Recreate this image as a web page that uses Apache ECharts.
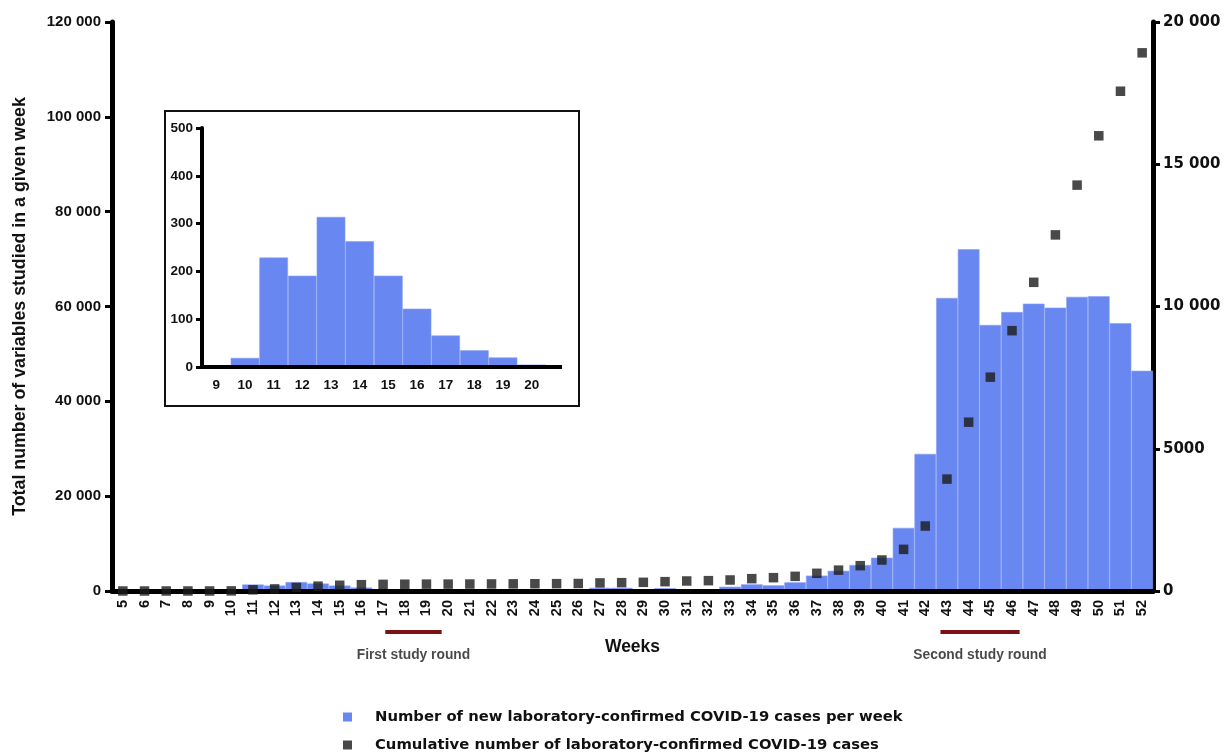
<!DOCTYPE html>
<html>
<head>
<meta charset="utf-8">
<script src="https://cdn.jsdelivr.net/npm/echarts@6/dist/echarts.min.js"></script>
<style>
html,body{margin:0;padding:0;background:#fff;}
#chart{width:1226px;height:755px;}
</style>
</head>
<body>
<div id="chart"></div>
<script>
// ---- data ----
const weeks = [5,6,7,8,9,10,11,12,13,14,15,16,17,18,19,20,21,22,23,24,25,26,27,28,29,30,31,32,33,34,35,36,37,38,39,40,41,42,43,44,45,46,47,48,49,50,51,52];
// new laboratory-confirmed cases per week (right axis)
const newCases = [0,0,0,0,0,19,229,191,314,263,191,122,66,35,20,5,30,25,30,30,30,35,110,110,60,100,60,50,150,234,200,305,540,710,914,1170,2220,4820,10300,12010,9350,9805,10100,9960,10340,10360,9415,7740];
// cumulative cases (left axis)
const cumulative = [0,0,0,0,0,20,250,440,750,1020,1210,1330,1400,1430,1450,1455,1470,1490,1510,1530,1550,1580,1700,1760,1830,1970,2110,2180,2320,2600,2810,3090,3730,4400,5340,6540,8780,13700,23600,35600,45100,54900,65100,75100,85600,96000,105400,113500];
// inset: weeks 9-20
const insetWeeks = [9,10,11,12,13,14,15,16,17,18,19,20];
const insetCases = [0,19,229,191,314,263,191,122,66,35,20,5];
// study rounds (in week units)
const roundNames = ['First study round','Second study round'];
const roundStart = [17.1, 42.7];
const roundEnd = [19.7, 46.35];

const seriesNames = ['Number of new laboratory-confirmed COVID-19 cases per week','Cumulative number of laboratory-confirmed COVID-19 cases'];

const FONT = '"Liberation Sans", Arial, sans-serif';
const WIDE = '"DejaVu Sans", sans-serif';
const BAR = '#6987f1';
const fmt = v => v >= 10000 ? String(v).replace(/\B(?=(\d{3})+(?!\d))/g, ' ') : String(v);

const chart = echarts.init(document.getElementById('chart'), null, {renderer:'canvas'});

const roundSeries = [];
roundNames.forEach((n,i)=>{
  roundSeries.push({
    type:'line', xAxisIndex:2, yAxisIndex:3, silent:true,
    data:[[roundStart[i],0],[roundEnd[i],0]],
    symbol:'none', lineStyle:{color:'#7b1214', width:4}, z:3
  });
  roundSeries.push({
    type:'scatter', xAxisIndex:2, yAxisIndex:3, silent:true,
    data:[[(roundStart[i]+roundEnd[i])/2,0,n]],
    symbolSize:0,
    label:{show:true, position:'bottom', distance:16, formatter:p=>p.value[2],
      fontFamily:FONT, fontWeight:'bold', fontSize:13.8, color:'#1a1a1a'}
  });
});

const option = {
  animation:false,
  textStyle:{fontFamily:FONT},
  grid:[
    {left:112, right:73, top:22, bottom:164},
    {left:202, top:128, width:344, height:239},
    {left:112, right:73, top:622, height:20}
  ],
  legend:{
    data:seriesNames, orient:'vertical', left:343, top:709, itemGap:12, padding:0,
    itemWidth:9, itemHeight:9, icon:'rect', itemStyle:{borderWidth:0},
    textStyle:{fontFamily:WIDE, fontWeight:'bold', fontSize:14.8, lineHeight:16, color:'#111', padding:[0,0,0,18]}
  },
  graphic:[{
    type:'rect', shape:{x:165, y:111, width:414, height:295},
    style:{fill:'none', stroke:'#111', lineWidth:2}, z:0
  }],
  xAxis:[
    {type:'category', gridIndex:0, data:weeks, boundaryGap:true,
     name:'Weeks', nameLocation:'middle', nameGap:47,
     nameTextStyle:{fontFamily:FONT, fontWeight:'bold', fontSize:17.5, color:'#111'},
     axisLine:{lineStyle:{color:'#000', width:5}}, z:3,
     axisTick:{alignWithLabel:true, length:8, lineStyle:{color:'#000', width:3}},
     axisLabel:{rotate:90, interval:0, margin:9, fontFamily:FONT, fontWeight:'bold', fontSize:14.5, color:'#111'}
    },
    {type:'category', gridIndex:1, data:insetWeeks, boundaryGap:true,
     axisLine:{symbol:['none','rect'], symbolSize:[4,32], lineStyle:{color:'#000', width:4}},
     axisTick:{alignWithLabel:true, length:6, lineStyle:{color:'#000', width:3}},
     axisLabel:{interval:0, margin:11, fontFamily:FONT, fontWeight:'bold', fontSize:13.5, color:'#111'}, z:3
    },
    {type:'value', gridIndex:2, min:4.5, max:52.5, show:false}
  ],
  yAxis:[
    {type:'value', gridIndex:0, min:0, max:120000, interval:20000,
     name:'Total number of variables studied in a given week', nameLocation:'middle', nameGap:83,
     nameTextStyle:{fontFamily:FONT, fontWeight:'bold', fontSize:17.8, color:'#111'},
     axisLine:{show:true, lineStyle:{color:'#000', width:5}},
     axisTick:{show:true, length:7, lineStyle:{color:'#000', width:3}},
     axisLabel:{formatter:fmt, margin:11, fontFamily:FONT, fontWeight:'bold', fontSize:15, color:'#111'},
     splitLine:{show:false}
    },
    {type:'value', gridIndex:0, position:'right', min:0, max:20000, interval:5000,
     axisLine:{show:true, lineStyle:{color:'#000', width:5}},
     axisTick:{show:true, length:7, lineStyle:{color:'#000', width:3}},
     axisLabel:{formatter:fmt, margin:10, fontFamily:WIDE, fontWeight:'bold', fontSize:15, color:'#111'},
     splitLine:{show:false}
    },
    {type:'value', gridIndex:1, min:0, max:500, interval:100,
     axisLine:{show:true, lineStyle:{color:'#000', width:4}},
     axisTick:{show:true, length:6, lineStyle:{color:'#000', width:3}},
     axisLabel:{margin:9, fontFamily:FONT, fontWeight:'bold', fontSize:13.5, color:'#111'},
     splitLine:{show:false}
    },
    {type:'value', gridIndex:2, min:-1, max:1, show:false}
  ],
  series:[
    {name:seriesNames[0], type:'bar', xAxisIndex:0, yAxisIndex:1, data:newCases,
     barCategoryGap:'0%', itemStyle:{color:BAR, borderColor:'#8aa1f4', borderWidth:0.6}, z:2},
    {name:seriesNames[1], type:'scatter', xAxisIndex:0, yAxisIndex:0, data:cumulative,
     symbol:'rect', symbolSize:9.5, itemStyle:{color:'#1c1c1c'}, z:5},
    {type:'bar', xAxisIndex:1, yAxisIndex:2, data:insetCases,
     barCategoryGap:'0%', itemStyle:{color:BAR, borderColor:'#8aa1f4', borderWidth:0.6}, z:2},
    ...roundSeries
  ]
};
chart.setOption(option);
</script>
</body>
</html>
